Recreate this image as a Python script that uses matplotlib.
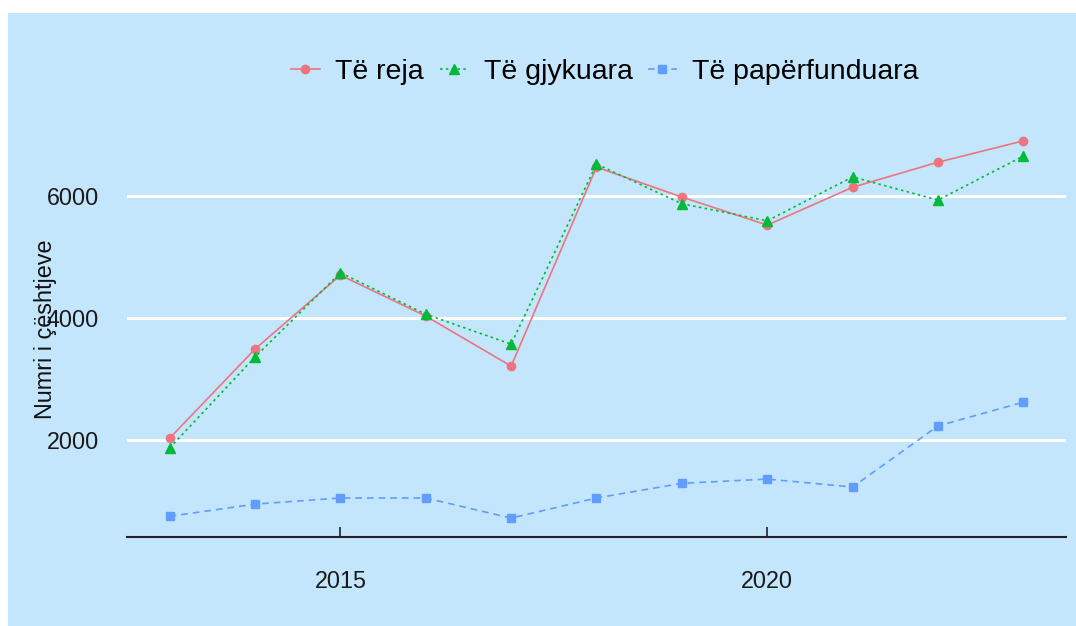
import matplotlib
matplotlib.use("Agg")
import matplotlib.pyplot as plt
from matplotlib.patches import Rectangle

years = [2013, 2014, 2015, 2016, 2017, 2018, 2019, 2020, 2021, 2022, 2023]
te_reja = [2030, 3490, 4700, 4030, 3210, 6470, 5980, 5520, 6140, 6550, 6900]
te_gjykuara = [1870, 3360, 4740, 4060, 3570, 6520, 5870, 5590, 6310, 5930, 6650]
te_paperfunduara = [750, 950, 1050, 1050, 720, 1050, 1290, 1360, 1230, 2230, 2620]
series_labels = ["Të reja", "Të gjykuara", "Të papërfunduara"]
x_ticks = [2015, 2020]
y_ticks = [2000, 4000, 6000]

W, H = 1076, 626
bg = "#C3E6FC"
fig = plt.figure(figsize=(W / 100, H / 100), dpi=100, facecolor="white")
fig.patches.append(Rectangle((8 / W, 0), 1, 1 - 13 / H, transform=fig.transFigure,
                             facecolor=bg, edgecolor="none", zorder=-10))
plt.rcParams['font.family'] = ['Liberation Sans', 'DejaVu Sans']

ax = fig.add_axes([127 / W, (H - 537) / H, (1066 - 127) / W, (537 - 122) / H])
ax.set_facecolor(bg)

ax.plot(years, te_reja, color="#EC7580", lw=1.2, ls="-", marker="o", ms=6,
        label=series_labels[0], zorder=3)
ax.plot(years, te_gjykuara, color="#00BA38", lw=1.2, ls=(0, (1.5, 2)), marker="^", ms=7,
        label=series_labels[1], zorder=3)
ax.plot(years, te_paperfunduara, color="#619CFF", lw=1.2, ls=(0, (4, 3)), marker="s", ms=6,
        label=series_labels[2], zorder=3)

allv = te_reja + te_gjykuara + te_paperfunduara
lo, hi = min(allv), max(allv)
pad = (hi - lo) * 0.05
ax.set_ylim(lo - pad, hi + pad)
ax.set_xlim(min(years) - 0.5, max(years) + 0.5)

ax.set_yticks(y_ticks)
ax.set_yticklabels([str(v) for v in y_ticks])
ax.set_xticks(x_ticks)
ax.set_xticklabels([str(v) for v in x_ticks])
ax.grid(axis="y", color="white", lw=2.2, zorder=1)
ax.grid(axis="x", visible=False)
ax.set_axisbelow(True)

for s in ["top", "right", "left"]:
    ax.spines[s].set_visible(False)
ax.spines["bottom"].set_color("#222222")
ax.spines["bottom"].set_linewidth(1.5)

ax.tick_params(axis="y", length=0, labelsize=16.8, pad=20, labelcolor="#1a1a1a")
ax.tick_params(axis="x", direction="in", length=7, width=1.2, color="#222222",
               labelsize=16.8, pad=24, labelcolor="#1a1a1a")

ax.set_ylabel("Numri i çështjeve", fontsize=16.8, color="#111111")
ax.yaxis.set_label_coords(-70 / (1066 - 127), 0.5)

leg = ax.legend(loc="center", bbox_to_anchor=(605 / W, (H - 72) / H),
                bbox_transform=fig.transFigure, ncol=3, frameon=False,
                fontsize=20.5, handlelength=1.0, handletextpad=0.55, columnspacing=0.55)

fig.savefig("out.png", dpi=100, facecolor="white")
